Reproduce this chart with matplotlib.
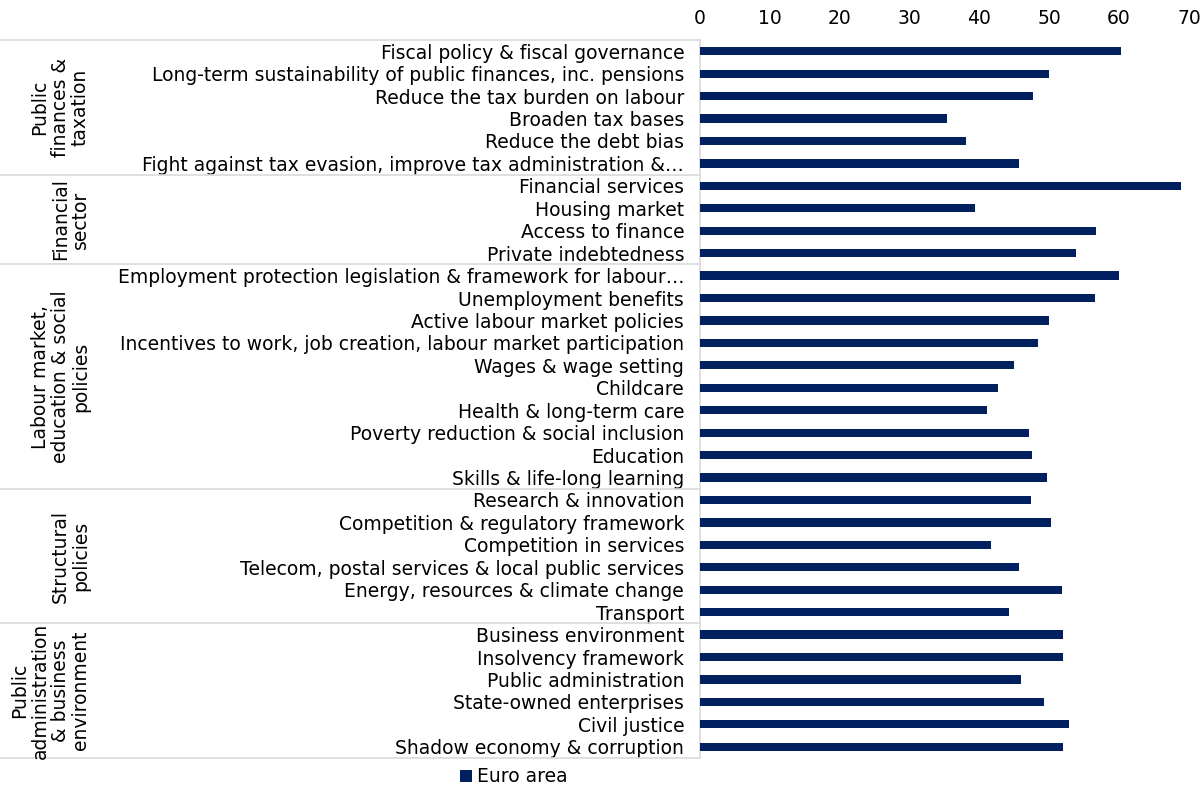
import matplotlib
matplotlib.use("Agg")
import matplotlib.pyplot as plt
import matplotlib.transforms as mtransforms
from matplotlib.patches import Patch

categories = [
    "Fiscal policy & fiscal governance",
    "Long-term sustainability of public finances, inc. pensions",
    "Reduce the tax burden on labour",
    "Broaden tax bases",
    "Reduce the debt bias",
    "Fight against tax evasion, improve tax administration &\u2026",
    "Financial services",
    "Housing market",
    "Access to finance",
    "Private indebtedness",
    "Employment protection legislation & framework for labour\u2026",
    "Unemployment benefits",
    "Active labour market policies",
    "Incentives to work, job creation, labour market participation",
    "Wages & wage setting",
    "Childcare",
    "Health & long-term care",
    "Poverty reduction & social inclusion",
    "Education",
    "Skills & life-long learning",
    "Research & innovation",
    "Competition & regulatory framework",
    "Competition in services",
    "Telecom, postal services & local public services",
    "Energy, resources & climate change",
    "Transport",
    "Business environment",
    "Insolvency framework",
    "Public administration",
    "State-owned enterprises",
    "Civil justice",
    "Shadow economy & corruption",
]

euro_area = [
    60.3, 50.0, 47.7, 35.4, 38.1, 45.7,
    68.9, 39.4, 56.7, 53.8,
    60.0, 56.5, 50.0, 48.4, 45.0, 42.7, 41.1, 47.1, 47.5, 49.7,
    47.4, 50.3, 41.7, 45.7, 51.8, 44.2,
    52.0, 52.0, 46.0, 49.3, 52.9, 52.0,
]

groups = [
    "Public\nfinances &\ntaxation",
    "Financial\nsector",
    "Labour market,\neducation & social\npolicies",
    "Structural\npolicies",
    "Public\nadministration\n& business\nenvironment",
]
group_sizes = [6, 4, 10, 6, 6]

series_name = "Euro area"
xticks = [0, 10, 20, 30, 40, 50, 60, 70]

BAR = "#002060"
GRID = "#D9D9D9"
FS = 13.5

W, H = 1203, 787
fig = plt.figure(figsize=(W / 100, H / 100), dpi=100)
ax = fig.add_axes([699.5 / W, 1 - 758 / H, (1189 - 699.5) / W, (758 - 40) / H])

y = list(range(len(categories)))
ax.barh(y, euro_area, height=0.37, color=BAR, zorder=3)
ax.set_ylim(len(categories) - 0.5, -0.5)
ax.set_xlim(0, 70)
ax.set_xticks(xticks)
ax.xaxis.tick_top()
ax.tick_params(axis="x", length=0, labelsize=FS, pad=9, colors="black")
ax.set_yticks(y)
ax.set_yticklabels(categories, fontsize=FS)
ax.tick_params(axis="y", length=0, pad=11)
for s in ["top", "right", "bottom"]:
    ax.spines[s].set_visible(False)
ax.spines["left"].set_color(GRID)
ax.spines["left"].set_linewidth(1.2)

# group separators and labels
blend = mtransforms.blended_transform_factory(fig.transFigure, ax.transData)
start = 0
bounds = [-0.5]
for g, n in zip(groups, group_sizes):
    end = start + n
    bounds.append(end - 0.5)
    center = (start + end - 1) / 2
    ax.text(90 / W, center, g, rotation=90, ha="right", va="center",
            multialignment="center", fontsize=FS, linespacing=1.08,
            transform=blend, clip_on=False)
    start = end
for b in bounds:
    ax.plot([0, 699.5 / W], [b, b], color=GRID, lw=1.2, transform=blend,
            clip_on=False)

handles = [Patch(facecolor=BAR, label=series_name)]
fig.legend(handles=handles, loc="center", bbox_to_anchor=(514 / W, 1 - 777 / H),
           frameon=False, fontsize=FS, handlelength=0.6, handleheight=0.6,
           handletextpad=0.3)

fig.savefig("out.png", dpi=100)
